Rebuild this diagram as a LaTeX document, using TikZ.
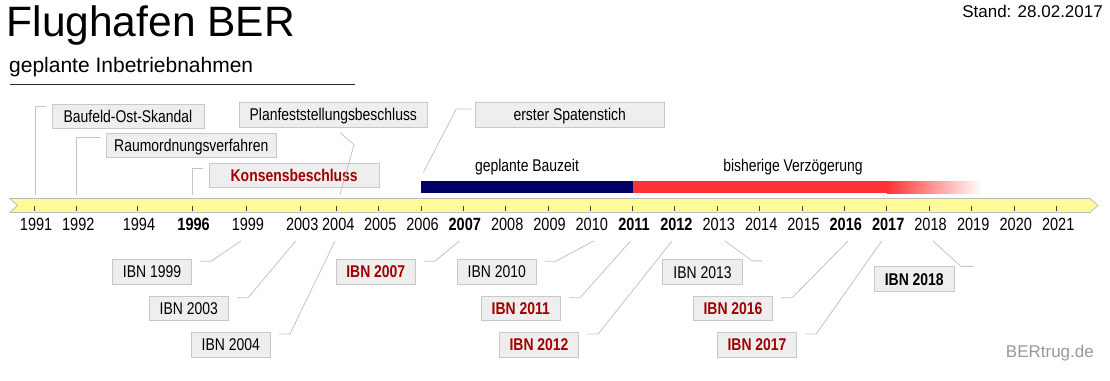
\documentclass[tikz,border=0pt]{standalone}
\usepackage{fontspec}
\setmainfont{Liberation Sans}
\newfontfamily\narrowfont[FakeStretch=0.82]{Liberation Sans}
\usetikzlibrary{calc}
\definecolor{boxfill}{HTML}{EEEEEE}
\definecolor{boxline}{HTML}{C8C8C8}
\definecolor{conline}{HTML}{C4C4C4}
\definecolor{darkred}{HTML}{A00000}
\definecolor{barfill}{HTML}{FFFB99}
\definecolor{barline}{HTML}{BBBBBB}
\definecolor{navyblue}{HTML}{000066}
\definecolor{delayred}{HTML}{FF3333}
\definecolor{markgray}{HTML}{999999}
\begin{document}
\begin{tikzpicture}[x=1pt,y=-1pt,
  evbox/.style={draw=boxline, fill=boxfill, line width=0.8pt, inner sep=0pt,
    minimum height=24.5pt, text height=12.2pt, text depth=0pt,
    font=\narrowfont\fontsize{17}{20}\selectfont},
  ibnbox/.style={evbox, minimum width=79.5pt},
  hlred/.style={font=\narrowfont\bfseries\fontsize{17}{20}\selectfont, text=darkred},
  hlblack/.style={font=\narrowfont\bfseries\fontsize{17}{20}\selectfont},
  yrlabel/.style={anchor=base, inner sep=0pt, font=\narrowfont\fontsize{17.7}{20}\selectfont},
  yrbold/.style={yrlabel, font=\narrowfont\bfseries\fontsize{17.7}{20}\selectfont},
  con/.style={draw=conline, line width=0.8pt},
  tickmark/.style={draw=black!75, line width=0.9pt},
  barlabel/.style={anchor=base, inner sep=0pt, font=\narrowfont\fontsize{17}{20}\selectfont}
]
\useasboundingbox (0,0) rectangle (1110,380);
\fill[white] (0,0) rectangle (1110,380);

% title
\node[anchor=base west, inner sep=0pt, font=\fontsize{42.5}{48}\selectfont] (title) at (6.5,36) {Flughafen BER};
\node[anchor=base west, inner sep=0pt, font=\fontsize{21}{25}\selectfont] (subtitle) at (9,72) {geplante Inbetriebnahmen};
\draw[black!85, line width=0.9pt] (10,84.3) -- (355,84.3);
\node[anchor=base east, inner sep=0pt, font=\fontsize{17}{20}\selectfont] (stand) at (1103,17.3) {Stand: 28.02.2017};

% construction / delay bars
\fill[navyblue] (421,181) rectangle (632.5,193);
\fill[delayred] (632.5,181) rectangle (887,193);
\shade[left color=delayred, right color=white] (887,181) rectangle (982,193);
\node[barlabel] (bauzeit) at (527,171) {geplante Bauzeit};
\node[barlabel] (verz) at (793,171) {bisherige Verzögerung};

% timeline bar
\draw[barline, fill=barfill, line width=0.8pt]
  (10,198.5) -- (1090,198.5) -- (1098,205.5) -- (1090,212.5) -- (10,212.5) -- (17.5,205.5) -- cycle;

% ticks and years
\foreach \yr/\xx in {1991/34.6, 1992/76.8, 1994/137.5, 1999/246.4, 2003/300.7, 2004/336.8,
  2005/378.7, 2006/421, 2008/505.7, 2009/548, 2010/590.3, 2013/717.3, 2014/759.7,
  2015/802, 2018/929, 2019/971.7, 2020/1014.3, 2021/1056.7}{
  \draw[tickmark] (\xx,205.5) -- (\xx,211);
  \node[yrlabel] (y\yr) at (\xx+1.5,230.7) {\yr};
}
\foreach \yr/\xx in {1996/192.1, 2007/463.3, 2011/632.5, 2012/674.9, 2016/844.3, 2017/886.7}{
  \draw[tickmark] (\xx,205.5) -- (\xx,211);
  \node[yrbold] (y\yr) at (\xx+1.5,230.7) {\yr};
}

% upper event boxes
\node[evbox, minimum width=152pt] (baufeld) at (128,116.3) {Baufeld-Ost-Skandal};
\node[evbox, minimum width=188pt, minimum height=25pt] (planf) at (333.3,114.8) {Planfeststellungsbeschluss};
\node[evbox, minimum width=170.7pt] (raum) at (191.3,145.3) {Raumordnungsverfahren};
\node[evbox, minimum width=170.3pt, hlred] (konsens) at (294.2,175.3) {Konsensbeschluss};
\node[evbox, minimum width=188.7pt, minimum height=25pt] (spaten) at (569.7,114.8) {erster Spatenstich};

\coordinate (t1991) at (35,194.5);
\coordinate (t1992) at (76.7,194.5);
\coordinate (t1996) at (192.5,194.5);
\coordinate (t2004) at (340,194.5);
\coordinate (s2006) at (423.3,172.3);

\draw[con] (t1991) |- ($(baufeld.north west)+(-5.3,3)$);
\draw[con] (t1992) |- ($(raum.north west)+(-6,4.4)$);
\draw[con] (t1996) |- ($(konsens.north west)+(-5.7,5.7)$);
\draw[con] ($(planf.south)+(6.7,5)$) -- ++(14,12) -- (t2004);
\draw[con] ($(spaten.north west)+(-3.6,7)$) -- ++(-15,0) -- (s2006);

% lower IBN boxes
\node[ibnbox] (i1999) at (152,271.8) {IBN 1999};
\node[ibnbox] (i2003) at (188.8,308.4) {IBN 2003};
\node[ibnbox] (i2004) at (230.8,344.7) {IBN 2004};
\node[ibnbox, hlred] (i2007) at (375.8,271.8) {IBN 2007};
\node[ibnbox] (i2010) at (496.8,271.8) {IBN 2010};
\node[ibnbox, hlred] (i2011) at (520.8,308.4) {IBN 2011};
\node[ibnbox, hlred] (i2012) at (539,344.7) {IBN 2012};
\node[ibnbox] (i2013) at (702.5,272) {IBN 2013};
\node[ibnbox, hlred] (i2016) at (733,308.4) {IBN 2016};
\node[ibnbox, hlred] (i2017) at (757,344.7) {IBN 2017};
\node[ibnbox, hlblack] (i2018) at (914.3,279) {IBN 2018};

\coordinate (e1999) at (241,241);
\coordinate (e2003) at (295.7,241);
\coordinate (e2004) at (335,241);
\coordinate (e2007) at (459.6,241);
\coordinate (e2010) at (593.6,241);
\coordinate (e2011) at (630.6,241);
\coordinate (e2012) at (672,241);
\coordinate (e2013) at (725,241);
\coordinate (e2016) at (848,241);
\coordinate (e2017) at (881.7,241);
\coordinate (e2018) at (933,241);

\foreach \n in {1999,2003,2004,2007,2010,2011,2012,2016,2017}{
  \draw[con] ($(i\n.north east)+(8,2)$) -- ++(11,0) -- (e\n);
}
\draw[con] (e2013) -- ($(i2013.north east)+(9.5,1.5)$) -- ++(10,0);
\draw[con] (e2018) -- ($(i2018.north east)+(6.3,0)$) -- ++(12,0);

% watermark
\node[anchor=base east, inner sep=0pt, text=markgray, font=\fontsize{17}{20}\selectfont] (mark) at (1094,357) {BERtrug.de};
\end{tikzpicture}
\end{document}
